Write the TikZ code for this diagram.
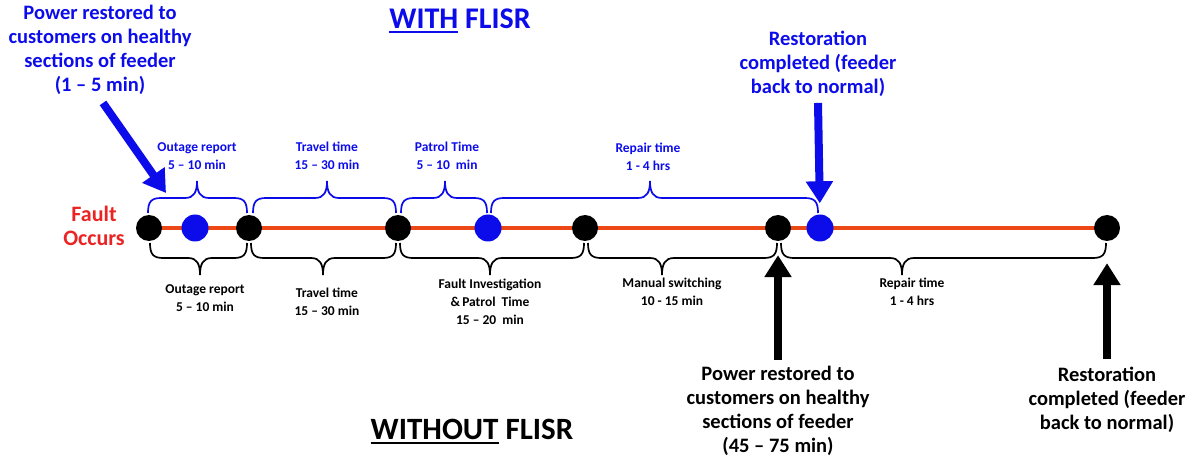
\documentclass[tikz,border=0pt]{standalone}
\usepackage{fontspec}
\setmainfont{Carlito}
\usetikzlibrary{arrows.meta,calc,backgrounds}
\definecolor{flblue}{RGB}{12,12,235}
\definecolor{feeder}{RGB}{235,72,22}
\definecolor{faultred}{RGB}{235,35,35}
% thick underline for the headings
\newcommand\heavyul[1]{\setbox0\hbox{#1}\rlap{\rule[-4.5pt]{\wd0}{2.2pt}}\box0\relax}
% curly brace: style, x1, x2, tip x, base y, direction (-1 up, 1 down)
\newcommand\curlybrace[6]{%
  \draw[#1] (#2,#5) .. controls (#2,{#5+(#6)*11}) and ({#2+3},{#5+(#6)*15}) .. ({#2+13},{#5+(#6)*15})
  -- ({#4-12},{#5+(#6)*15}) .. controls ({#4-3},{#5+(#6)*15}) and (#4,{#5+(#6)*21}) .. (#4,{#5+(#6)*32})
  .. controls (#4,{#5+(#6)*21}) and ({#4+3},{#5+(#6)*15}) .. ({#4+12},{#5+(#6)*15})
  -- ({#3-13},{#5+(#6)*15}) .. controls ({#3-3},{#5+(#6)*15}) and (#3,{#5+(#6)*11}) .. (#3,#5);}
\begin{document}
\begin{tikzpicture}[x=1pt,y=-1pt,
  blackdot/.style={circle,fill=black,minimum size=26pt,inner sep=0pt},
  bluedot/.style={circle,fill=flblue,minimum size=27pt,inner sep=0pt},
  withbrace/.style={draw=flblue,line width=1.7pt},
  withoutbrace/.style={draw=black,line width=1.7pt},
  small/.style={font=\fontsize{13.5}{18}\selectfont\bfseries,align=center,inner sep=0pt},
  big/.style={font=\fontsize{20.5}{24}\selectfont\bfseries,align=center,inner sep=0pt},
  title/.style={font=\fontsize{30}{34}\selectfont\bfseries,inner sep=0pt},
  bigarrow/.style={line width=8pt,-{Triangle[width=26pt,length=22pt]}},
]
\useasboundingbox (0,0) rectangle (1199,462);

% timeline events
\node[blackdot] (d1) at (149,228) {};
\node[bluedot]  (b1) at (195,228) {};
\node[blackdot] (d2) at (249,228) {};
\node[blackdot] (d3) at (398,228) {};
\node[bluedot]  (b2) at (488,228) {};
\node[blackdot] (d4) at (585,228) {};
\node[blackdot] (d5) at (778,228) {};
\node[bluedot]  (b3) at (820,228) {};
\node[blackdot] (d6) at (1107,228) {};

\begin{scope}[on background layer]
  \draw[feeder,line width=4.5pt] (d1.center) -- (d6.center);
\end{scope}

\node[text=faultred,font=\fontsize{22}{24}\selectfont\bfseries,align=center,inner sep=0pt]
  (fault) at (94,226) {Fault\\Occurs};

% titles
\node[title,text=flblue] (with) at (460,21) {\heavyul{WITH} FLISR};
\node[title,text=black,font=\fontsize{31}{34}\selectfont\bfseries] (without) at (472,432) {\heavyul{WITHOUT} FLISR};

% with FLISR: stages above the feeder
\curlybrace{withbrace}{148}{247}{197}{213}{-1}
\curlybrace{withbrace}{253}{396}{327}{213}{-1}
\curlybrace{withbrace}{401}{487}{445}{213}{-1}
\curlybrace{withbrace}{491}{818}{650}{213}{-1}
\node[small,text=flblue] (w1) at (197,156) {Outage report\\5 -- 10 min};
\node[small,text=flblue] (w2) at (327,156) {Travel time\\15 -- 30 min};
\node[small,text=flblue] (w3) at (447,156) {Patrol Time\\5 -- 10\ \ min};
\node[small,text=flblue] (w4) at (648,157) {Repair time\\1 - 4 hrs};

% without FLISR: stages below the feeder
\curlybrace{withoutbrace}{150}{247}{200}{243}{1}
\curlybrace{withoutbrace}{251}{396}{323}{243}{1}
\curlybrace{withoutbrace}{400}{584}{490}{243}{1}
\curlybrace{withoutbrace}{588}{777}{662}{243}{1}
\curlybrace{withoutbrace}{781}{1106}{902}{243}{1}
\node[small] (n1) at (205,298) {Outage report\\5 -- 10 min};
\node[small] (n2) at (327,302) {Travel time\\15 -- 30 min};
\node[small] (n3) at (490,302) {Fault Investigation\\\&\,Patrol\ \ Time\\15 -- 20\ \ min};
\node[small] (n4) at (672,292) {Manual switching\\10 - 15 min};
\node[small] (n5) at (912,292) {Repair time\\1 - 4 hrs};

% milestones with FLISR
\node[big,text=flblue] (pA) at (100,50) {Power restored to\\customers on healthy\\sections of feeder\\(1 -- 5 min)};
\coordinate (tipA) at (166,193);
\draw[bigarrow,flblue] ($(pA.south)+(3,8)$) -- (tipA);
\node[big,text=flblue] (rA) at (818,64) {Restoration\\completed (feeder\\back to normal)};
\draw[bigarrow,flblue,shorten >=11pt] ($(rA.south)+(0,6)$) -- (b3.north);

% milestones without FLISR
\node[big] (pB) at (778,411) {Power restored to\\customers on healthy\\sections of feeder\\(45 -- 75 min)};
\draw[bigarrow,shorten >=14pt] ($(pB.north)+(0,-6)$) -- (d5.south);
\node[big] (rB) at (1107,400) {Restoration\\completed (feeder\\back to normal)};
\draw[bigarrow,shorten >=22pt] ($(rB.north)+(0,-8)$) -- (d6.south);
\end{tikzpicture}
\end{document}
